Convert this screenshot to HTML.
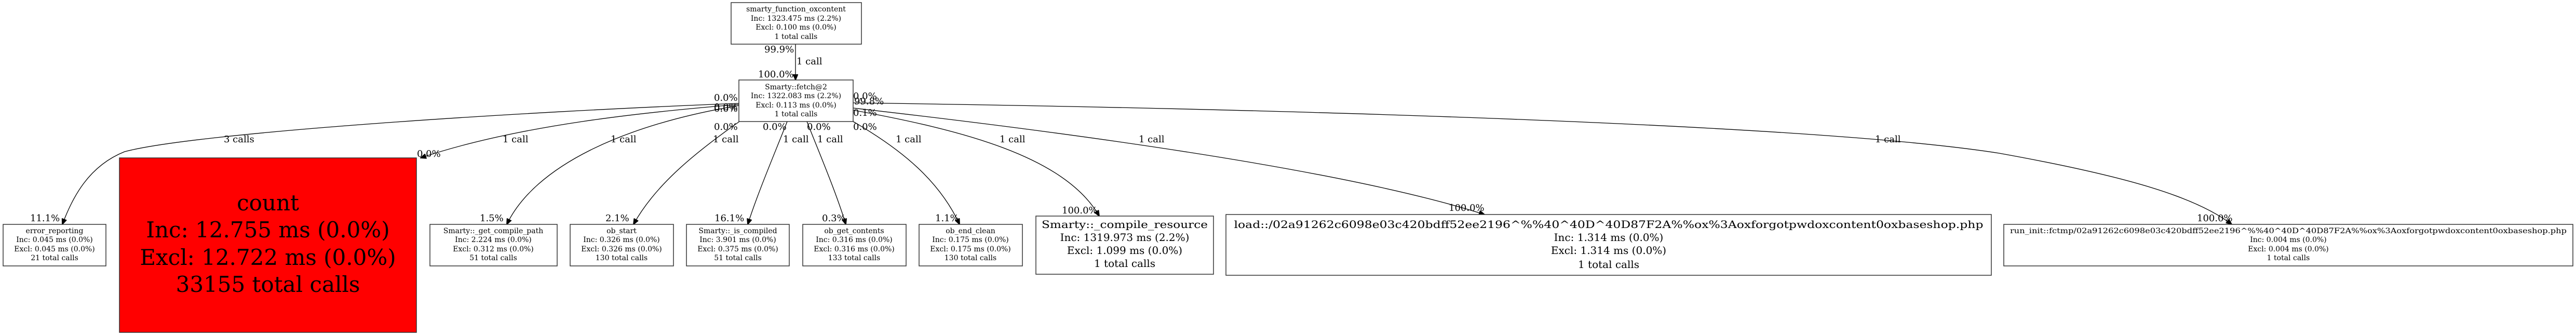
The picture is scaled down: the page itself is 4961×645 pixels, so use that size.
<!DOCTYPE html>
<html><head><meta charset="utf-8"><style>
html,body{margin:0;padding:0;background:#fff;}
svg{display:block;}
text{font-family:"DejaVu Serif","Liberation Serif",serif;fill:#000;}
.b{font-size:14px;text-anchor:middle;}
.l{font-size:18px;}
.m{font-size:18px;text-anchor:middle;}
rect{fill:#fff;stroke:#333;stroke-width:1.5;}
path{fill:none;stroke:#000;stroke-width:1.3;}
</style></head><body>
<svg width="4961" height="645" viewBox="0 0 4961 645" xmlns="http://www.w3.org/2000/svg">
<defs><marker id="a" markerWidth="12" markerHeight="10" refX="11" refY="5" orient="auto" markerUnits="userSpaceOnUse"><path d="M0,0 L12,5 L0,10 Z" style="fill:#000;stroke:#000;stroke-width:1"/></marker></defs>

<!-- edges -->
<path d="M1532,85 L1532,154" marker-end="url(#a)"/>
<path d="M1424,199 C1000,215 380,255 240,292 C170,320 140,380 120,432" marker-end="url(#a)"/>
<path d="M1424,201 C1250,215 1000,240 810,304" marker-end="url(#a)"/>
<path d="M1424,203 C1200,240 1030,320 976,432" marker-end="url(#a)"/>
<path d="M1424,234 C1330,300 1260,360 1220,432" marker-end="url(#a)"/>
<path d="M1516,234 C1490,300 1460,370 1440,432" marker-end="url(#a)"/>
<path d="M1554,234 C1580,300 1610,370 1629,432" marker-end="url(#a)"/>
<path d="M1643,234 C1740,290 1810,350 1848,432" marker-end="url(#a)"/>
<path d="M1643,212 C1850,250 2050,300 2117,416" marker-end="url(#a)"/>
<path d="M1643,208 C2100,260 2600,330 2859,413" marker-end="url(#a)"/>
<path d="M1643,198 C2500,210 3500,240 3850,295 C4100,340 4230,380 4298,432" marker-end="url(#a)"/>

<!-- top nodes -->
<rect x="1408" y="5" width="251" height="80"/>
<text class="b" x="1533" y="22">smarty_function_oxcontent</text>
<text class="b" x="1533" y="40">Inc: 1323.475 ms (2.2%)</text>
<text class="b" x="1533" y="57">Excl: 0.100 ms (0.0%)</text>
<text class="b" x="1533" y="75">1 total calls</text>

<rect x="1423" y="154" width="220" height="80"/>
<text class="b" x="1533" y="172">Smarty::fetch@2</text>
<text class="b" x="1533" y="189">Inc: 1322.083 ms (2.2%)</text>
<text class="b" x="1533" y="207">Excl: 0.113 ms (0.0%)</text>
<text class="b" x="1533" y="224">1 total calls</text>

<!-- edge labels near top -->
<text class="l" x="1472" y="101">99.9%</text>
<text class="l" x="1534" y="124">1 call</text>
<text class="l" x="1460" y="149">100.0%</text>
<text class="l" x="1375" y="194">0.0%</text>
<text class="l" x="1375" y="212">0.0%</text>
<text class="l" x="1375" y="215">0.0%</text>
<text class="l" x="1643" y="191">0.0%</text>
<text class="l" x="1645" y="201">99.8%</text>
<text class="l" x="1643" y="223">0.1%</text>
<text class="l" x="1375" y="250">0.0%</text>
<text class="l" x="1469" y="250">0.0%</text>
<text class="l" x="1554" y="250">0.0%</text>
<text class="l" x="1643" y="250">0.0%</text>
<text class="l" x="1373" y="274">1 call</text>
<text class="l" x="1508" y="274">1 call</text>
<text class="l" x="1574" y="274">1 call</text>
<text class="l" x="1725" y="274">1 call</text>
<text class="l" x="431" y="274">3 calls</text>
<text class="l" x="968" y="274">1 call</text>
<text class="l" x="1176" y="274">1 call</text>
<text class="l" x="1925" y="274">1 call</text>
<text class="l" x="2193" y="274">1 call</text>
<text class="l" x="3611" y="274">1 call</text>
<text class="l" x="803" y="302">0.0%</text>

<!-- target labels -->
<text class="l" x="58" y="426">11.1%</text>
<text class="l" x="924" y="426">1.5%</text>
<text class="l" x="1166" y="426">2.1%</text>
<text class="l" x="1376" y="426">16.1%</text>
<text class="l" x="1583" y="426">0.3%</text>
<text class="l" x="1801" y="426">1.1%</text>
<text class="l" x="2045" y="411">100.0%</text>
<text class="l" x="2790" y="406">100.0%</text>
<text class="l" x="4231" y="426">100.0%</text>

<!-- small nodes -->
<rect x="6" y="432" width="198" height="80"/>
<text class="b" x="105" y="449">error_reporting</text>
<text class="b" x="105" y="466">Inc: 0.045 ms (0.0%)</text>
<text class="b" x="105" y="484">Excl: 0.045 ms (0.0%)</text>
<text class="b" x="105" y="501">21 total calls</text>

<rect x="230" y="304" width="572" height="336" style="fill:#ff0000;stroke:#333;"/>
<text x="516" y="405" style="font-size:42px;text-anchor:middle;">count</text>
<text x="516" y="457" style="font-size:42px;text-anchor:middle;">Inc: 12.755 ms (0.0%)</text>
<text x="516" y="510" style="font-size:42px;text-anchor:middle;">Excl: 12.722 ms (0.0%)</text>
<text x="516" y="562" style="font-size:42px;text-anchor:middle;">33155 total calls</text>

<rect x="828" y="432" width="245" height="80"/>
<text class="b" x="950" y="449">Smarty::_get_compile_path</text>
<text class="b" x="950" y="466">Inc: 2.224 ms (0.0%)</text>
<text class="b" x="950" y="484">Excl: 0.312 ms (0.0%)</text>
<text class="b" x="950" y="501">51 total calls</text>

<rect x="1098" y="432" width="199" height="80"/>
<text class="b" x="1197" y="449">ob_start</text>
<text class="b" x="1197" y="466">Inc: 0.326 ms (0.0%)</text>
<text class="b" x="1197" y="484">Excl: 0.326 ms (0.0%)</text>
<text class="b" x="1197" y="501">130 total calls</text>

<rect x="1322" y="432" width="198" height="80"/>
<text class="b" x="1421" y="449">Smarty::_is_compiled</text>
<text class="b" x="1421" y="466">Inc: 3.901 ms (0.0%)</text>
<text class="b" x="1421" y="484">Excl: 0.375 ms (0.0%)</text>
<text class="b" x="1421" y="501">51 total calls</text>

<rect x="1546" y="432" width="199" height="80"/>
<text class="b" x="1645" y="449">ob_get_contents</text>
<text class="b" x="1645" y="466">Inc: 0.316 ms (0.0%)</text>
<text class="b" x="1645" y="484">Excl: 0.316 ms (0.0%)</text>
<text class="b" x="1645" y="501">133 total calls</text>

<rect x="1770" y="432" width="199" height="80"/>
<text class="b" x="1869" y="449">ob_end_clean</text>
<text class="b" x="1869" y="466">Inc: 0.175 ms (0.0%)</text>
<text class="b" x="1869" y="484">Excl: 0.175 ms (0.0%)</text>
<text class="b" x="1869" y="501">130 total calls</text>

<rect x="1995" y="416" width="342" height="112"/>
<text x="2166" y="439" style="font-size:20px;text-anchor:middle;" textLength="320" lengthAdjust="spacingAndGlyphs">Smarty::_compile_resource</text>
<text x="2166" y="464" style="font-size:20px;text-anchor:middle;">Inc: 1319.973 ms (2.2%)</text>
<text x="2166" y="489" style="font-size:20px;text-anchor:middle;">Excl: 1.099 ms (0.0%)</text>
<text x="2166" y="514" style="font-size:20px;text-anchor:middle;">1 total calls</text>

<rect x="2361" y="413" width="1474" height="117"/>
<text x="3098" y="439" style="font-size:20px;text-anchor:middle;" textLength="1443" lengthAdjust="spacingAndGlyphs">load::/02a91262c6098e03c420bdff52ee2196^%%40^40D^40D87F2A%%ox%3Aoxforgotpwdoxcontent0oxbaseshop.php</text>
<text x="3098" y="464" style="font-size:20px;text-anchor:middle;">Inc: 1.314 ms (0.0%)</text>
<text x="3098" y="489" style="font-size:20px;text-anchor:middle;">Excl: 1.314 ms (0.0%)</text>
<text x="3098" y="516" style="font-size:20px;text-anchor:middle;">1 total calls</text>

<rect x="3859" y="432" width="1096" height="80"/>
<text class="b" x="4407" y="449" textLength="1072" lengthAdjust="spacingAndGlyphs">run_init::fctmp/02a91262c6098e03c420bdff52ee2196^%%40^40D^40D87F2A%%ox%3Aoxforgotpwdoxcontent0oxbaseshop.php</text>
<text class="b" x="4407" y="466">Inc: 0.004 ms (0.0%)</text>
<text class="b" x="4407" y="484">Excl: 0.004 ms (0.0%)</text>
<text class="b" x="4407" y="501">1 total calls</text>
</svg>
</body></html>
